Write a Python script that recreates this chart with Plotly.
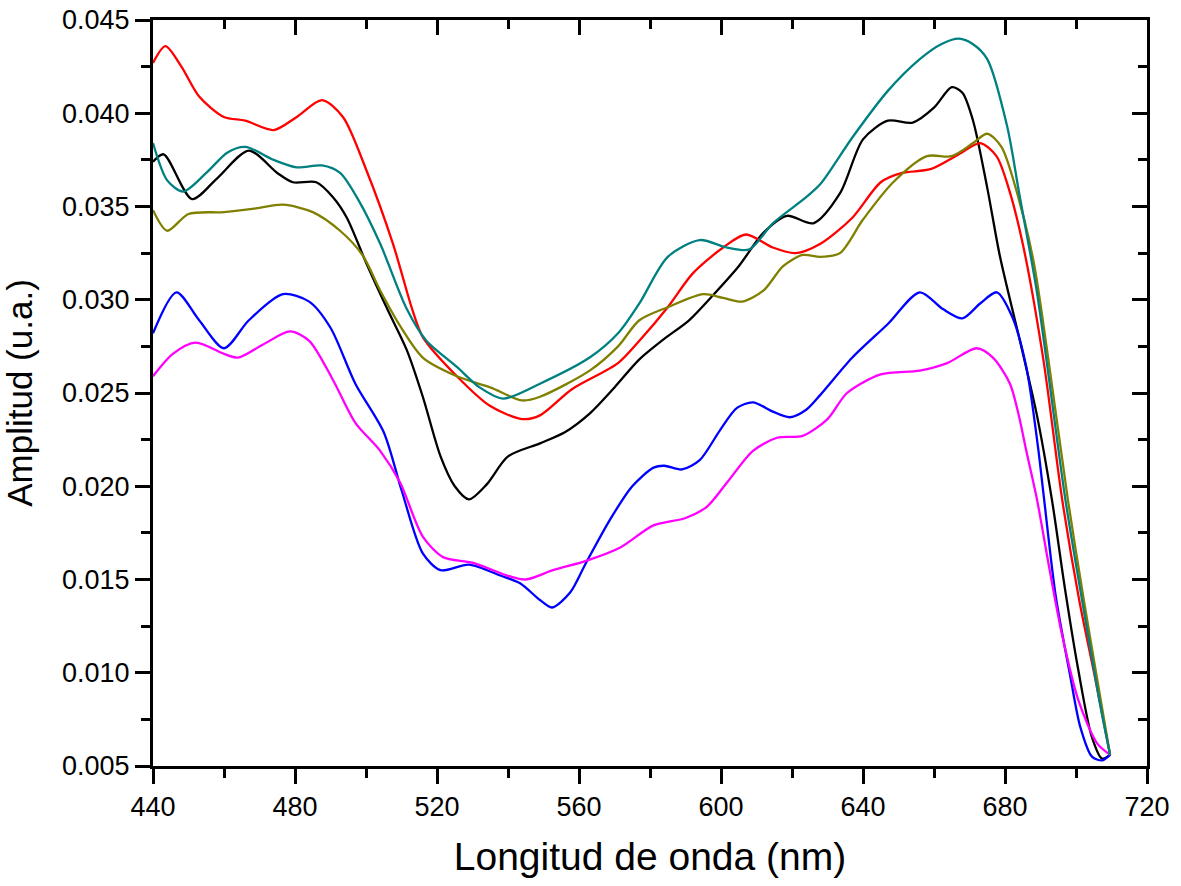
import plotly.graph_objects as go

# ---------------- data ----------------
black_x = [440, 443, 451, 458, 467, 475, 479.4, 486, 490.7, 494.6, 500, 506, 511.5, 516, 521, 525, 529, 534, 540, 549,
           556, 563, 570, 577, 584, 591, 598, 605, 612, 618.6, 626, 633.5, 640, 647, 654, 660, 665, 668, 671, 675,
           678.6, 684.2, 689, 693.2, 696.9, 700.6, 704.4, 707.3, 709.6]
black_y = [0.0374, 0.0378, 0.0354, 0.0365, 0.0380, 0.0368, 0.0363, 0.0363, 0.0355, 0.0344, 0.0320, 0.0295, 0.0273,
           0.0248, 0.0216, 0.0200, 0.0193, 0.0201, 0.0216, 0.0223, 0.0229, 0.0239, 0.0253, 0.0268, 0.0279, 0.0289,
           0.0303, 0.0318, 0.0336, 0.0345, 0.0341, 0.0357, 0.0386, 0.0396, 0.0395, 0.0403, 0.0414, 0.0411, 0.0396,
           0.0360, 0.0323, 0.0278, 0.0238, 0.0193, 0.0145, 0.0102, 0.0066, 0.0054, 0.0056]

red_x = [440, 443.5, 448, 453, 460, 466, 474, 480.5, 487.6, 493.5, 500, 507.6, 513, 516, 525.6, 535, 544, 549, 558,
         571, 577, 585, 592, 600.6, 607, 614.6, 621, 628, 637, 645, 651, 659, 667, 673, 677.6, 681, 685, 690.8, 696.1,
         700.9, 705.4, 709.6]
red_y = [0.0427, 0.0436, 0.0425, 0.0409, 0.0398, 0.0396, 0.0391, 0.0398, 0.0407, 0.0398, 0.0370, 0.0330, 0.0295,
         0.0280, 0.0259, 0.0243, 0.0236, 0.0238, 0.0252, 0.0266, 0.0278, 0.0296, 0.0314, 0.0328, 0.0335, 0.0328,
         0.0325, 0.0330, 0.0344, 0.0363, 0.0368, 0.0370, 0.0378, 0.0384, 0.0377, 0.0360, 0.0330, 0.0268, 0.0193,
         0.0139, 0.0097, 0.0056]

teal_x = [440, 444, 448.5, 455, 461, 466, 474, 480.5, 487.6, 492.7, 498, 504, 511.5, 517, 525.6, 532, 538.6, 549,
          563, 571, 577, 585, 594, 601.7, 608, 614.6, 624, 628, 637, 647, 656, 662, 667, 671, 675, 680.6, 684, 689,
          697.0, 701.7, 706.6, 709.6]
teal_y = [0.0384, 0.0364, 0.0358, 0.0368, 0.0379, 0.0382, 0.0375, 0.0371, 0.0372, 0.0368, 0.0353, 0.0330, 0.0295,
          0.0278, 0.0264, 0.0253, 0.0247, 0.0255, 0.0269, 0.0282, 0.0298, 0.0323, 0.0332, 0.0328, 0.0327, 0.0341,
          0.0355, 0.0362, 0.0387, 0.0412, 0.0429, 0.0437, 0.0440, 0.0437, 0.0429, 0.0393, 0.0357, 0.0304, 0.0193,
          0.0139, 0.0085, 0.0056]

olive_x = [440, 444, 450, 460, 469, 476.6, 485, 492.7, 499, 504, 509.6, 516, 525.6, 535, 544, 549, 563, 571, 577,
           585, 595, 600.6, 606, 612, 617.5, 623, 628, 633.5, 640, 648.5, 658, 665, 671, 675, 679, 683, 688, 692,
           697.7, 702.2, 707.0, 709.6]
olive_y = [0.0348, 0.0337, 0.0346, 0.0347, 0.0349, 0.0351, 0.0347, 0.0337, 0.0324, 0.0305, 0.0286, 0.0269, 0.0259,
           0.0253, 0.0246, 0.0248, 0.0262, 0.0275, 0.0289, 0.0296, 0.0303, 0.0301, 0.0299, 0.0305, 0.0318, 0.0324,
           0.0323, 0.0325, 0.0343, 0.0363, 0.0377, 0.0377, 0.0384, 0.0389, 0.0382, 0.0360, 0.0321, 0.0271, 0.0193,
           0.0139, 0.0085, 0.0056]

blue_x = [440, 446.6, 453, 460, 467, 476.6, 484, 490, 497, 505, 510, 516, 521, 529, 538, 543.4, 549, 552.4, 557.5,
          562, 568.7, 575, 581, 584, 589, 594, 599.7, 604.5, 609, 614.6, 619.4, 624, 628, 637, 647, 656, 662.5, 668,
          673, 677.7, 682, 686, 689.3, 690.9, 694.3, 698.4, 701.2, 704.5, 707.3, 709.6]
blue_y = [0.0282, 0.0304, 0.0289, 0.0274, 0.0289, 0.0303, 0.0299, 0.0285, 0.0255, 0.0229, 0.0198, 0.0164, 0.0155,
          0.0158, 0.0152, 0.0148, 0.0139, 0.0135, 0.0143, 0.0159, 0.0182, 0.0200, 0.0210, 0.0211, 0.0209, 0.0214,
          0.0230, 0.0242, 0.0245, 0.0240, 0.0237, 0.0241, 0.0249, 0.0269, 0.0287, 0.0304, 0.0295, 0.0290, 0.0298,
          0.0304, 0.0291, 0.0264, 0.0221, 0.0195, 0.0141, 0.0098, 0.0071, 0.0055, 0.0053, 0.0056]

magenta_x = [440, 445.6, 452, 460, 464, 471, 478.6, 484, 490.7, 497, 504, 509.6, 516, 521.7, 530, 540, 545, 552.7,
             562, 571.5, 581, 590, 596, 601.7, 609, 615.8, 623, 630, 635.5, 645, 656, 663.7, 672, 676.6, 681.4, 684,
             686, 689, 692.4, 696, 700.7, 706, 709.6]
magenta_y = [0.0259, 0.0271, 0.0277, 0.0271, 0.0269, 0.0276, 0.0283, 0.0278, 0.0257, 0.0234, 0.0219, 0.0202, 0.0173,
             0.0162, 0.0159, 0.0152, 0.0150, 0.0155, 0.0160, 0.0167, 0.0179, 0.0183, 0.0189, 0.0202, 0.0219, 0.0226,
             0.0227, 0.0236, 0.0250, 0.0260, 0.0262, 0.0266, 0.0274, 0.0269, 0.0255, 0.0237, 0.0219, 0.0193, 0.0157,
             0.0121, 0.0085, 0.0062, 0.0056]

x_title = "Longitud de onda (nm)"
y_title = "Amplitud (u.a.)"

series = [
    (black_x, black_y, "#000000"),
    (red_x, red_y, "#FF0000"),
    (blue_x, blue_y, "#0000FF"),
    (magenta_x, magenta_y, "#FF00FF"),
    (olive_x, olive_y, "#808000"),
    (teal_x, teal_y, "#008080"),
]

fig = go.Figure()
for xs, ys, col in series:
    fig.add_trace(go.Scatter(x=xs, y=ys, mode="lines",
                             line=dict(color=col, width=2.3, shape="spline", smoothing=0.8),
                             showlegend=False, hoverinfo="skip"))

# empty trace so the mirrored (top / right) axes are drawn
fig.add_trace(go.Scatter(x=[], y=[], xaxis="x2", yaxis="y2", showlegend=False, hoverinfo="skip"))

FONT = "Liberation Sans, Arial, sans-serif"
xr = [440, 720]
yr = [0.005, 0.0450001]

common = dict(showgrid=False, zeroline=False, showline=True, linecolor="black", linewidth=3,
              tickcolor="black", tickwidth=2.5, ticklen=15)

fig.update_layout(
    width=1181, height=886,
    margin=dict(l=153, r=34, t=20, b=120, autoexpand=False),
    paper_bgcolor="white", plot_bgcolor="white",
    showlegend=False,
    xaxis=dict(range=xr, dtick=40, tick0=440, ticks="outside", **common,
               minor=dict(ticks="outside", dtick=20, ticklen=9, tickwidth=2.5, tickcolor="black"),
               tickfont=dict(family=FONT, size=27, color="black"), ticklabeloverflow="allow",
               title=dict(text=x_title, font=dict(family=FONT, size=39, color="black"), standoff=22),
               automargin=False),
    yaxis=dict(range=yr, dtick=0.005, tick0=0.005, ticks="outside", tickformat=".3f", **common,
               minor=dict(ticks="outside", dtick=0.0025, ticklen=9, tickwidth=2.5, tickcolor="black"),
               tickfont=dict(family=FONT, size=27, color="black"), ticklabeloverflow="allow",
               title=dict(text=y_title, font=dict(family=FONT, size=35, color="black"), standoff=20),
               automargin=False),
    xaxis2=dict(range=xr, dtick=40, tick0=440, ticks="inside", overlaying="x", side="top", anchor="y2",
                showticklabels=False, **common,
                minor=dict(ticks="inside", dtick=20, ticklen=9, tickwidth=2.5, tickcolor="black")),
    yaxis2=dict(range=yr, dtick=0.005, tick0=0.005, ticks="inside", overlaying="y", side="right", anchor="x2",
                showticklabels=False, **common,
                minor=dict(ticks="inside", dtick=0.0025, ticklen=9, tickwidth=2.5, tickcolor="black")),
)

# remove the page's default body margin so the figure fills the window exactly
fig.write_html("out.html",
               config={"displayModeBar": False},
               post_script="document.body.style.margin='0';document.body.style.overflow='hidden';")
